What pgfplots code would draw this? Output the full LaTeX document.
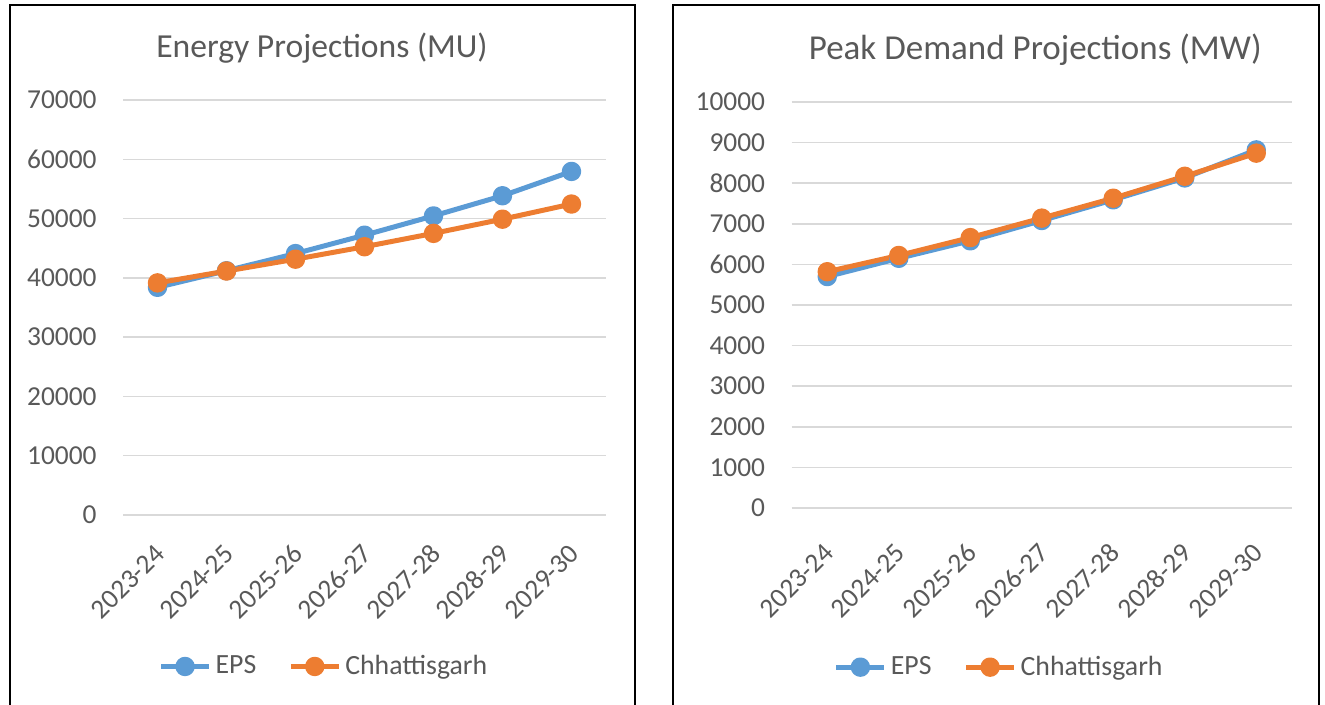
\documentclass[border=0pt]{standalone}
\usepackage{pgfplots}
\pgfplotsset{compat=1.18}
\usepackage{fontspec}
\setmainfont{Carlito}
\definecolor{epsblue}{HTML}{5B9BD5}
\definecolor{cgorange}{HTML}{ED7D31}
\definecolor{txt}{HTML}{595959}
\definecolor{gridc}{HTML}{D9D9D9}

\pgfplotsset{
 every axis title shift=0pt,
 myaxis/.style={
  scale only axis,
  xmin=-0.5, xmax=6.5,
  ymin=0,
  xtick={0,...,6},
  xticklabels={2023-24,2024-25,2025-26,2026-27,2027-28,2028-29,2029-30},
  axis line style={draw=none},
  major tick length=0pt,
  ymajorgrids,
  grid style={gridc, line width=0.75pt},
  scaled y ticks=false,
  /pgf/number format/1000 sep={},
  /pgf/number format/assume math mode=true,
  tick label style={font=\fontsize{13.7}{16}\selectfont, text=txt},
  yticklabel style={anchor=east, inner sep=0pt, xshift=-13pt},
  xticklabel style={rotate=45, anchor=east, inner sep=0pt},
  title style={font=\fontsize{16.8}{20}\selectfont, text=txt, anchor=center, inner sep=0pt},
  legend style={draw=none, fill=none, legend columns=2, font=\fontsize{13.9}{16}\selectfont, text=txt, anchor=center,
    /tikz/every even column/.append style={column sep=14pt}},
  legend image code/.code={\draw[mark repeat=2,mark phase=2,#1] plot coordinates {(0pt,0pt) (12pt,0pt) (24pt,0pt)};},
  every axis plot/.append style={line width=2.5pt, line join=round, mark=*, mark size=3.6pt, mark options={solid}},
 }
}

\begin{document}
\begin{tikzpicture}
\path[use as bounding box] (0pt,0pt) rectangle (662.5pt,352.5pt);
\draw[line width=1pt] (5pt,-5pt) -- (5pt,350pt) -- (317.5pt,350pt) -- (317.5pt,-5pt);
\draw[line width=1pt] (336.5pt,-5pt) -- (336.5pt,350pt) -- (659.5pt,350pt) -- (659.5pt,-5pt);

\begin{axis}[myaxis,
  at={(61.5pt,95pt)}, anchor=south west,
  width=241.5pt, height=207.5pt,
  ymax=70000, ytick={0,10000,...,70000},
  xticklabel style={xshift=-10.96pt, yshift=-13.08pt},
  title={Energy Projections (MU)},
  title style={at={(axis description cs:0.412,1.125)}},
  legend style={at={(axis description cs:0.418,-0.365)}},
]
\addplot[color=epsblue, mark options={fill=epsblue, draw=epsblue}] coordinates {
(0,38400) (1,41200) (2,44100) (3,47200) (4,50450) (5,53850) (6,57950)};
\addlegendentry{EPS}
\addplot[color=cgorange, mark options={fill=cgorange, draw=cgorange}] coordinates {
(0,39150) (1,41150) (2,43150) (3,45250) (4,47500) (5,49900) (6,52450)};
\addlegendentry{Chhattisgarh}
\end{axis}

\begin{axis}[myaxis,
  at={(395.75pt,98.5pt)}, anchor=south west,
  width=250.25pt, height=203pt,
  ymax=10000, ytick={0,1000,...,10000},
  xticklabel style={xshift=-13.4pt, yshift=-14.85pt},
  title={Peak Demand Projections (MW)},
  title style={at={(axis description cs:0.487,1.128)}, font=\fontsize{17.5}{20}\selectfont},
  legend style={at={(axis description cs:0.417,-0.392)}},
]
\addplot[color=epsblue, mark options={fill=epsblue, draw=epsblue}] coordinates {
(0,5700) (1,6150) (2,6580) (3,7080) (4,7590) (5,8130) (6,8820)};
\addlegendentry{EPS}
\addplot[color=cgorange, mark options={fill=cgorange, draw=cgorange}] coordinates {
(0,5820) (1,6220) (2,6660) (3,7140) (4,7630) (5,8170) (6,8740)};
\addlegendentry{Chhattisgarh}
\end{axis}
\end{tikzpicture}
\end{document}
